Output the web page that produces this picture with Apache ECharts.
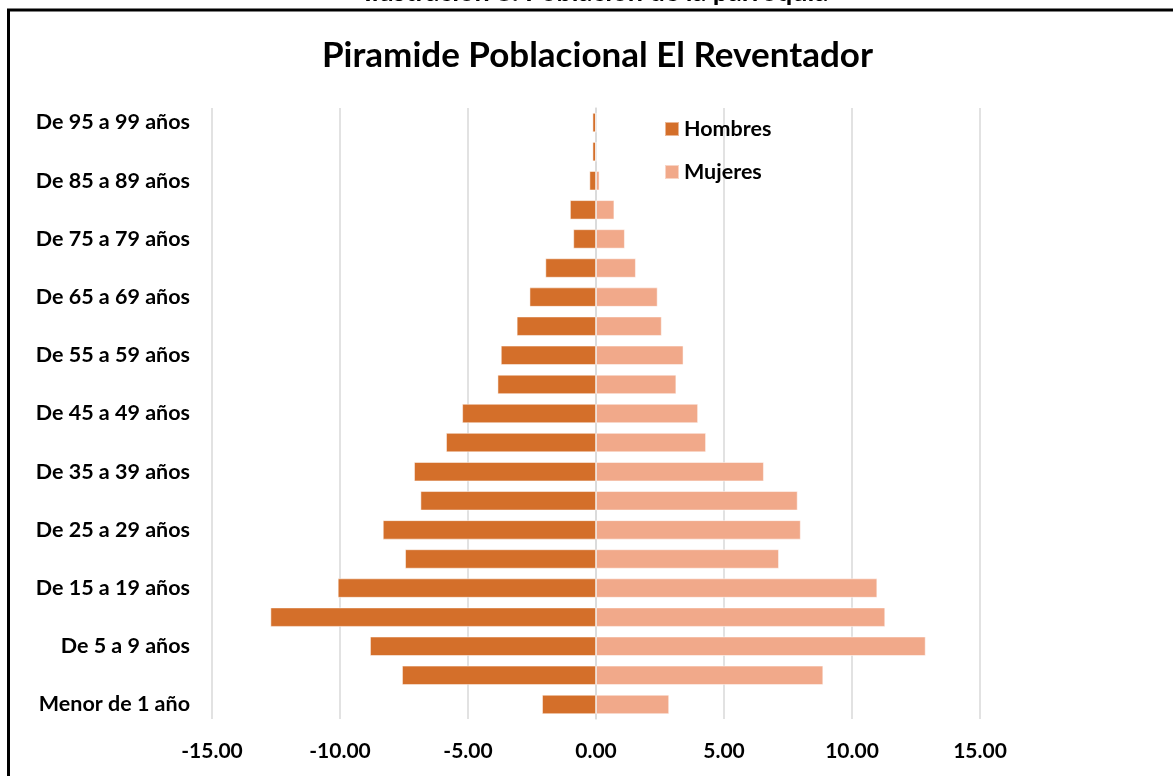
<!DOCTYPE html>
<html>
<head>
<meta charset="utf-8">
<script src="https://cdn.jsdelivr.net/npm/echarts@6/dist/echarts.min.js"></script>
<style>html,body{margin:0;padding:0;background:#fff;}#c{width:1173px;height:776px;}</style>
</head>
<body>
<div id="c"></div>
<script>
const categories = ["Menor de 1 año","De 1 a 4 años","De 5 a 9 años","De 10 a 14 años","De 15 a 19 años","De 20 a 24 años","De 25 a 29 años","De 30 a 34 años","De 35 a 39 años","De 40 a 44 años","De 45 a 49 años","De 50 a 54 años","De 55 a 59 años","De 60 a 64 años","De 65 a 69 años","De 70 a 74 años","De 75 a 79 años","De 80 a 84 años","De 85 a 89 años","De 90 a 94 años","De 95 a 99 años"];
const hombres = [-2.11,-7.58,-8.83,-12.72,-10.09,-7.46,-8.33,-6.86,-7.11,-5.86,-5.23,-3.85,-3.72,-3.10,-2.60,-1.98,-0.89,-1.02,-0.26,-0.14,-0.14];
const mujeres = [2.86,8.88,12.88,11.30,10.99,7.15,8.00,7.88,6.56,4.30,3.99,3.14,3.42,2.57,2.41,1.56,1.13,0.72,0.14,0,0];
const xTicks = {min:-15, max:15, interval:5};

const FONT = 'Lato';
const chart = echarts.init(document.getElementById('c'), null, {renderer:'canvas'});
chart.setOption({
  backgroundColor:'#ffffff',
  animation:false,
  title:{
    text:'Piramide Poblacional El Reventador',
    left:322, top:38, padding:0,
    textStyle:{fontFamily:FONT, fontWeight:'bold', fontSize:35, color:'#000'}
  },
  legend:{
    orient:'vertical', left:664, top:118, padding:0,
    itemWidth:14, itemHeight:14, itemGap:21,
    icon:'rect',
    textStyle:{fontFamily:FONT, fontWeight:'bold', fontSize:21.5, color:'#000', lineHeight:22},
    data:['Hombres','Mujeres']
  },
  grid:{left:212, right:193, top:108, bottom:57, containLabel:false},
  xAxis:{
    type:'value', min:xTicks.min, max:xTicks.max, interval:xTicks.interval,
    axisLine:{show:false}, axisTick:{show:false},
    splitLine:{show:true, lineStyle:{color:'#d9d9d9', width:1.5}},
    axisLabel:{margin:22, fontFamily:FONT, fontWeight:'bold', fontSize:21, color:'#000',
      formatter:v=>v.toFixed(2)}
  },
  yAxis:{
    type:'category', data:categories,
    axisLine:{show:true, onZero:true, lineStyle:{color:'#d9d9d9', width:1.5}},
    axisTick:{show:false},
    axisLabel:{interval:1, margin:22, fontFamily:FONT, fontWeight:'bold', fontSize:21.5, color:'#000'}
  },
  series:[
    {name:'Hombres', type:'bar', data:hombres, barGap:'-100%', barCategoryGap:'33%',
      itemStyle:{color:'#D46F2A', borderColor:'rgba(255,255,255,0.5)', borderWidth:1}},
    {name:'Mujeres', type:'bar', data:mujeres, barGap:'-100%', barCategoryGap:'33%',
      itemStyle:{color:'#F1A98A', borderColor:'rgba(255,255,255,0.5)', borderWidth:1}}
  ],
  graphic:[
    {type:'rect', silent:true, z:100, shape:{x:8.5, y:10, width:1300, height:900},
      style:{fill:'none', stroke:'#000', lineWidth:3}},
    {type:'text', silent:true, z:100, x:596, y:6,
      style:{text:'Ilustración 8. Población de la parroquia', align:'center', verticalAlign:'bottom',
        font:'bold 27px Lato', fill:'#000'}}
  ]
});
</script>
</body>
</html>
